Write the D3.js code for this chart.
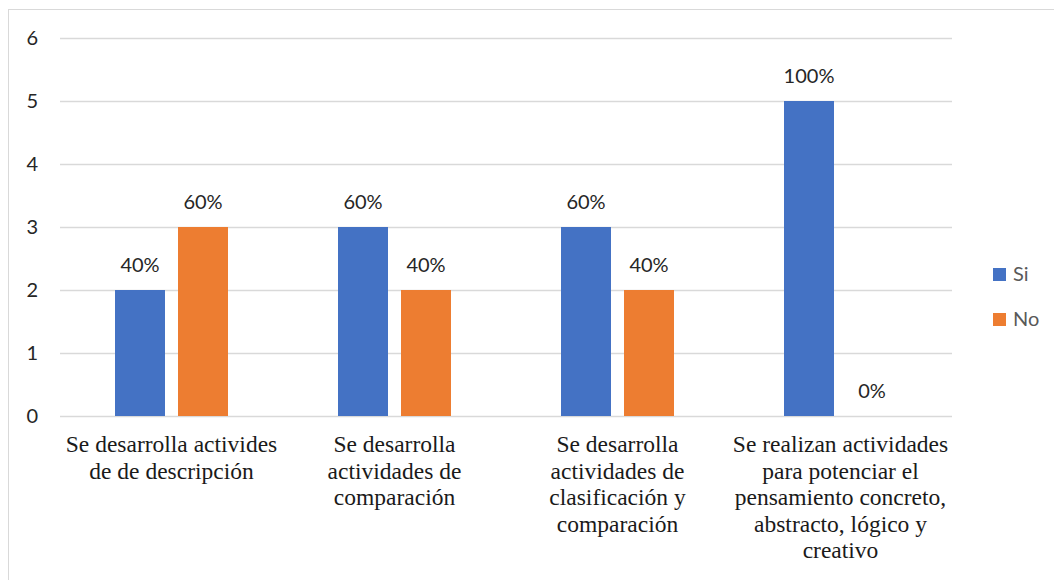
<!DOCTYPE html>
<html>
<head>
<meta charset="utf-8">
<script src="https://cdn.jsdelivr.net/npm/d3@7"></script>
<style>
  html, body { margin: 0; padding: 0; background: #fff; }
  svg { display: block; }
</style>
</head>
<body>
<svg id="chart" width="1054" height="580"></svg>
<script>
// Survey results: number of responses per statement
const categories = [
  ["Se desarrolla activides", "de de descripción"],
  ["Se desarrolla", "actividades de", "comparación"],
  ["Se desarrolla", "actividades de", "clasificación y", "comparación"],
  ["Se realizan actividades", "para potenciar el", "pensamiento concreto,", "abstracto, lógico y", "creativo"]
];
const seriesNames = ["Si", "No"];
const siValues = [2, 3, 3, 5];
const noValues = [3, 2, 2, 0];
const siLabels = ["40%", "60%", "60%", "100%"];
const noLabels = ["60%", "40%", "40%", "0%"];
const yTicks = [0, 1, 2, 3, 4, 5, 6];
const colors = ["#4472C4", "#ED7D31"];

const svg = d3.select("#chart");
const plot = { left: 60, right: 952, top: 38, bottom: 416 };

// Outer chart frame
svg.append("rect")
  .attr("x", 8.5).attr("y", 9.5)
  .attr("width", 1100).attr("height", 700)
  .attr("fill", "none").attr("stroke", "#d9d9d9").attr("stroke-width", 1);

const x = d3.scaleBand()
  .domain(d3.range(categories.length))
  .range([plot.left, plot.right])
  .paddingInner(0).paddingOuter(0);

const barW = 50, barGap = 13;
const xSeries = d3.scaleOrdinal()
  .domain([0, 1])
  .range([-barGap / 2 - barW, barGap / 2]);

const y = d3.scaleLinear().domain([0, 6]).range([plot.bottom, plot.top]);

// Gridlines
svg.append("g")
  .selectAll("line")
  .data(yTicks)
  .join("line")
  .attr("x1", plot.left).attr("x2", plot.right)
  .attr("y1", d => Math.round(y(d)) + 0.5)
  .attr("y2", d => Math.round(y(d)) + 0.5)
  .attr("stroke", "#d9d9d9").attr("stroke-width", 1.3);

// Y axis labels
const yAxis = d3.axisLeft(y).tickValues(yTicks).tickFormat(d3.format("d")).tickSize(0).tickPadding(0);
const gy = svg.append("g").attr("transform", "translate(38,0)").call(yAxis);
gy.select(".domain").remove();
gy.selectAll("text")
  .attr("font-family", "Lato, 'Open Sans', sans-serif")
  .attr("font-size", 20)
  .attr("fill", "#262626");

// Bars
const series = [siValues, noValues];
const seriesLabels = [siLabels, noLabels];
series.forEach((vals, s) => {
  const g = svg.append("g");
  g.selectAll("rect")
    .data(vals)
    .join("rect")
    .attr("x", (d, i) => x(i) + x.bandwidth() / 2 + xSeries(s))
    .attr("y", d => y(d))
    .attr("width", barW)
    .attr("height", d => y(0) - y(d))
    .attr("fill", colors[s]);
  g.selectAll("text")
    .data(vals)
    .join("text")
    .attr("x", (d, i) => x(i) + x.bandwidth() / 2 + xSeries(s) + barW / 2)
    .attr("y", d => y(d) - 18)
    .attr("text-anchor", "middle")
    .attr("font-family", "Lato, 'Open Sans', sans-serif")
    .attr("font-size", 20)
    .attr("fill", "#262626")
    .text((d, i) => seriesLabels[s][i]);
});

// Category labels
const cat = svg.append("g")
  .selectAll("text")
  .data(categories)
  .join("text")
  .attr("x", (d, i) => x(i) + x.bandwidth() / 2)
  .attr("y", 452)
  .attr("text-anchor", "middle")
  .attr("font-family", "'Liberation Serif', 'Times New Roman', serif")
  .attr("font-size", 23.5)
  .attr("fill", "#1a1a1a");
cat.selectAll("tspan")
  .data(d => d)
  .join("tspan")
  .attr("x", function () { return d3.select(this.parentNode).attr("x"); })
  .attr("dy", (d, i) => i === 0 ? 0 : 26.6)
  .text(d => d);

// Legend
const legend = svg.append("g")
  .selectAll("g")
  .data(seriesNames)
  .join("g")
  .attr("transform", (d, i) => `translate(993,${268 + i * 45})`);
legend.append("rect")
  .attr("width", 13).attr("height", 13)
  .attr("fill", (d, i) => colors[i]);
legend.append("text")
  .attr("x", 20).attr("y", 13)
  .attr("font-family", "Lato, 'Open Sans', sans-serif")
  .attr("font-size", 20)
  .attr("fill", "#595959")
  .text(d => d);
</script>
</body>
</html>
